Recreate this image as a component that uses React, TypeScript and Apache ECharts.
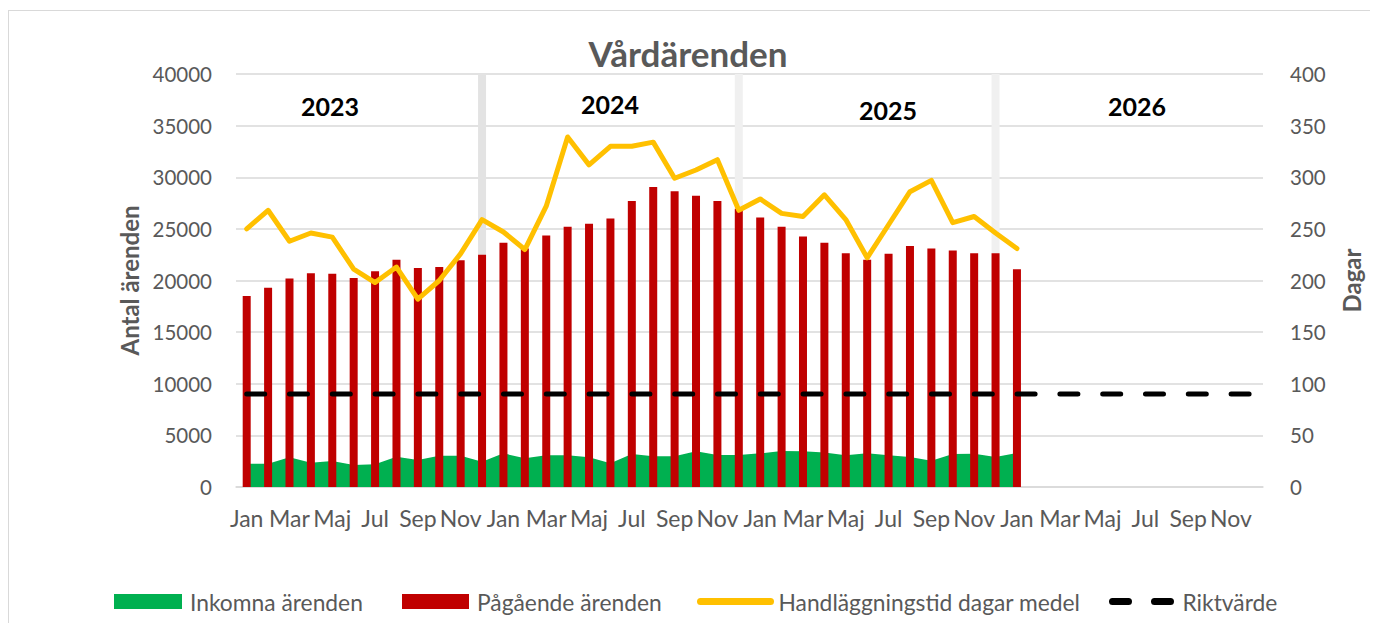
import React, { useEffect, useRef } from "react";
import * as echarts from "echarts";

const monthLabels = ["Jan", "Feb", "Mar", "Apr", "Maj", "Jun", "Jul", "Aug", "Sep", "Okt", "Nov", "Dec"];
const years = ["2023", "2024", "2025", "2026"];
const categories = years.flatMap((y) => monthLabels.map((m) => `${m} ${y}`));

const inkomna = [
  2260, 2260, 2870, 2350, 2520, 2130, 2200, 2940, 2620, 3030, 3030, 2450,
  3260, 2780, 3070, 3070, 2870, 2290, 3200, 2970, 2970, 3460, 3100, 3100,
  3260, 3490, 3460, 3330, 3070, 3260, 3070, 2900, 2550, 3200, 3230, 2900,
  3290,
];

const pagaende = [
  18500, 19300, 20200, 20700, 20650, 20250, 20900, 22000, 21200, 21300, 21950, 22500,
  23650, 23100, 24350, 25200, 25500, 26000, 27700, 29050, 28650, 28200, 27700, 26950,
  26100, 25200, 24250, 23650, 22650, 22000, 22600, 23350, 23100, 22900, 22650, 22650,
  21100,
];

const handlaggningstid = [
  250, 268, 238, 246, 242, 211, 198, 213, 182, 200, 226, 259,
  247, 230, 272, 339, 312, 330, 330, 334, 299, 307, 317, 268,
  279, 265, 262, 283, 259, 222, 254, 286, 297, 256, 262, 246,
  231,
];

const riktvarde = [
  90, 90, 90, 90, 90, 90, 90, 90, 90, 90, 90, 90,
  90, 90, 90, 90, 90, 90, 90, 90, 90, 90, 90, 90,
  90, 90, 90, 90, 90, 90, 90, 90, 90, 90, 90, 90,
  90, 90, 90, 90, 90, 90, 90, 90, 90, 90, 90, 90,
];

// year-change markers (value = full axis height at December of each year)
const arsskifte = [
  null, null, null, null, null, null, null, null, null, null, null, 40000,
  null, null, null, null, null, null, null, null, null, null, null, 40000,
  null, null, null, null, null, null, null, null, null, null, null, 40000,
  null, null, null, null, null, null, null, null, null, null, null, null,
];

const yearLabelPositions = [
  [321, 95],
  [601, 93],
  [879, 99],
  [1128, 95],
];

const FONT = "Lato, 'Open Sans', sans-serif";
const GRAY = "#595959";

export default function App() {
  const ref = useRef<HTMLDivElement>(null);

  useEffect(() => {
    if (!ref.current) return;
    const chart = echarts.init(ref.current, undefined, { renderer: "svg" });

    const legendText = { color: GRAY, fontSize: 22.8, fontFamily: FONT, padding: [0, 0, 0, 3] };
    let sepCount = 0;
    const sepData = arsskifte.map((v) => {
      if (v == null) return null;
      const c = sepCount === 0 ? "#e3e3e3" : "#f0f0f0";
      sepCount++;
      return { value: v, itemStyle: { color: c } };
    });

    const legendTop = 574;

    chart.setOption({
      animation: false,
      textStyle: { fontFamily: FONT },
      grid: { left: 227, right: 107, top: 63, bottom: 136, containLabel: false },
      graphic: [
        {
          type: "text",
          x: 679,
          y: 42,
          style: {
            text: "Vårdärenden",
            fill: GRAY,
            font: `bold 35px ${FONT}`,
            textAlign: "center",
            textVerticalAlign: "middle",
          },
        },
        ...years.map((y, i) => ({
          type: "text",
          x: yearLabelPositions[i][0],
          y: yearLabelPositions[i][1],
          z: 10,
          style: {
            text: y,
            fill: "#000000",
            font: `bold 25px ${FONT}`,
            textAlign: "center",
            textVerticalAlign: "middle",
          },
        })),
      ],
      legend: [
        {
          data: [{ name: "Inkomna ärenden", icon: "rect" }],
          left: 100, top: legendTop, itemWidth: 68, itemHeight: 15, selectedMode: false, textStyle: legendText,
        },
        {
          data: [{ name: "Pågående ärenden", icon: "rect" }],
          left: 388, top: legendTop, itemWidth: 67, itemHeight: 15, selectedMode: false, textStyle: legendText,
        },
        {
          data: ["Handläggningstid dagar medel"],
          left: 683, top: legendTop, itemWidth: 70, itemHeight: 15, selectedMode: false, textStyle: legendText,
          itemStyle: { opacity: 0, color: "transparent", borderWidth: 0 },
          lineStyle: { width: 7, cap: "round" },
        },
        {
          data: ["Riktvärde"],
          left: 1095, top: legendTop, itemWidth: 62, itemHeight: 15, selectedMode: false, textStyle: legendText,
          itemStyle: { opacity: 0, color: "transparent", borderWidth: 0 },
          lineStyle: { width: 7, cap: "round", type: [16, 26] },
        },
      ],
      xAxis: {
        type: "category",
        data: categories,
        boundaryGap: true,
        axisLine: { show: true, lineStyle: { color: "#d9d9d9", width: 1.5 } },
        axisTick: { show: false },
        axisLabel: {
          interval: 1,
          color: GRAY,
          fontSize: 23,
          fontFamily: FONT,
          margin: 19,
          formatter: (v: string) => v.split(" ")[0],
        },
        splitLine: { show: false },
      },
      yAxis: [
        {
          type: "value",
          min: 0,
          max: 40000,
          interval: 5000,
          name: "Antal ärenden",
          nameLocation: "middle",
          nameGap: 93,
          nameTextStyle: { color: GRAY, fontSize: 24, fontWeight: "bold", fontFamily: FONT },
          axisLine: { show: false },
          axisTick: { show: false },
          axisLabel: {
            color: GRAY,
            fontSize: 20.5,
            fontFamily: FONT,
            margin: 24,
            formatter: (v: number) => String(v),
          },
          splitLine: { show: true, lineStyle: { color: "#d9d9d9", width: 1.5 } },
        },
        {
          type: "value",
          min: 0,
          max: 400,
          interval: 50,
          name: "Dagar",
          nameLocation: "middle",
          nameGap: 76,
          nameTextStyle: { color: GRAY, fontSize: 24, fontWeight: "bold", fontFamily: FONT },
          axisLine: { show: false },
          axisTick: { show: false },
          axisLabel: {
            color: GRAY,
            fontSize: 20.5,
            fontFamily: FONT,
            margin: 27,
            formatter: (v: number) => String(v),
          },
          splitLine: { show: false },
        },
      ],
      series: [
        {
          name: "Årsskifte",
          type: "bar",
          yAxisIndex: 0,
          data: sepData,
          barWidth: 8,
          barGap: "-100%",
          silent: true,
          z: 1,
        },
        {
          name: "Inkomna ärenden",
          type: "line",
          yAxisIndex: 0,
          data: inkomna,
          symbol: "none",
          lineStyle: { width: 0 },
          itemStyle: { color: "#00b050" },
          areaStyle: { color: "#00b050", opacity: 1 },
          z: 2,
        },
        {
          name: "Pågående ärenden",
          type: "bar",
          yAxisIndex: 0,
          data: pagaende,
          barWidth: 8,
          barGap: "-100%",
          itemStyle: { color: "#c00000" },
          z: 3,
        },
        {
          name: "Riktvärde",
          type: "line",
          yAxisIndex: 1,
          data: riktvarde,
          symbol: "none",
          itemStyle: { color: "#000000" },
          lineStyle: { color: "#000000", width: 5, type: [18, 24.8], cap: "round" },
          z: 4,
        },
        {
          name: "Handläggningstid dagar medel",
          type: "line",
          yAxisIndex: 1,
          data: handlaggningstid,
          symbol: "none",
          itemStyle: { color: "#ffc000" },
          lineStyle: { color: "#ffc000", width: 5, join: "round", cap: "round" },
          z: 5,
        },
      ],
    });

    return () => chart.dispose();
  }, []);

  return (
    <div
      style={{
        marginTop: 2,
        width: 1364,
        boxSizing: "border-box",
        border: "1px solid #d9d9d9",
        borderBottom: "none",
        background: "#ffffff",
      }}
    >
      <div ref={ref} style={{ width: 1362, height: 612 }} />
    </div>
  );
}
